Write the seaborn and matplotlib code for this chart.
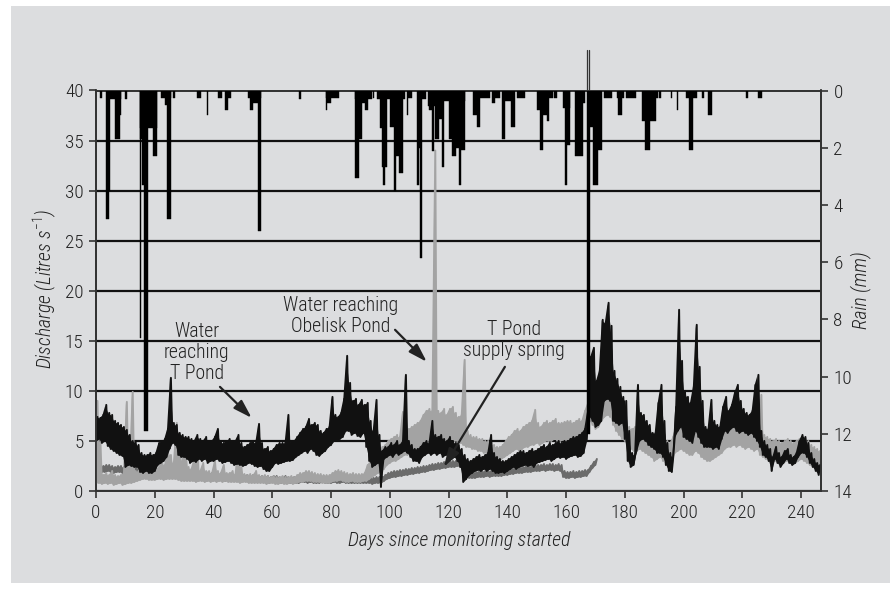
import numpy as np
import matplotlib
matplotlib.use("Agg")
import matplotlib.pyplot as plt
from matplotlib import font_manager as fm
import seaborn as sns
from matplotlib.patches import Rectangle

# ---------------- data ----------------
# Water reaching T Pond (black) : daily low / high of the noisy record, L/s
tpond_lo = [5.0,5.2,4.8,5.0,4.5,4.2,4.0,3.8,3.6,3.5,
            2.4,2.6,2.5,2.4,2.4,1.9,1.8,2.0,1.8,1.8,
            2.0,2.6,2.8,3.0,3.4,4.2,4.8,4.6,3.6,3.4,
            3.4,3.2,2.8,3.0,2.9,3.2,3.0,3.2,2.8,3.0,
            3.0,3.2,3.0,2.8,2.9,3.0,2.8,2.6,2.7,2.6,
            2.5,2.6,2.8,2.7,2.5,2.4,2.5,2.2,2.0,2.0,
            2.4,2.8,2.7,2.8,2.9,3.0,3.0,3.1,3.4,3.6,
            3.8,4.0,3.8,4.2,4.0,3.6,3.5,3.8,4.0,4.4,
            4.6,5.0,5.0,5.2,5.4,6.0,6.0,5.6,5.8,5.5,
            5.4,5.8,4.4,3.0,2.4,2.6,2.8,0.4,3.2,3.4,
            3.6,3.4,3.8,3.6,3.8,4.0,3.8,3.4,3.0,3.0,
            2.8,3.4,3.6,3.8,3.6,3.8,3.6,3.8,3.4,3.6,
            3.4,3.2,3.4,3.0,2.4,0.9,1.2,1.6,1.8,2.0,
            2.1,2.0,2.2,2.0,2.2,2.0,1.8,1.8,1.9,1.8,
            2.0,2.2,2.4,2.2,2.4,2.5,2.6,2.5,2.6,2.4,
            2.8,2.9,3.0,3.1,3.2,3.0,3.2,3.4,3.3,3.4,
            3.2,3.4,3.5,3.6,3.4,3.5,3.8,5.0,7.4,7.0,
            6.4,6.6,7.0,9.0,9.2,9.0,7.0,6.8,6.6,6.8,
            5.2,3.0,2.4,2.6,4.0,5.0,5.2,5.0,4.6,4.4,
            4.2,3.8,3.8,3.4,2.6,2.0,1.9,5.4,6.0,6.4,
            5.4,5.2,5.0,4.8,6.0,5.4,4.8,4.4,4.4,4.4,
            4.2,4.4,4.2,5.2,6.0,5.8,6.2,6.4,6.0,5.8,
            6.0,5.8,5.6,5.8,5.4,5.0,4.4,3.6,3.4,3.0,
            2.0,3.2,2.8,2.4,2.8,3.2,2.8,2.6,2.8,3.4,
            3.8,3.8,3.4,2.8,2.4,2.0,1.6]
tpond_hi = [7.4,7.3,7.6,8.6,7.8,7.6,7.0,6.8,6.6,6.4,
            6.1,5.6,5.0,4.9,4.6,3.8,3.6,3.6,3.8,3.6,
            3.8,4.8,5.0,5.2,6.2,11.3,6.8,6.6,5.8,5.6,
            5.4,5.4,5.2,5.0,5.6,5.2,5.0,5.4,5.0,5.0,
            5.4,6.2,5.0,4.8,5.0,5.2,5.0,5.0,5.6,4.8,
            4.4,4.6,4.8,5.0,4.8,6.7,4.8,4.2,4.4,4.0,
            4.2,4.6,4.8,4.8,4.8,7.6,4.9,5.0,5.4,5.8,
            6.2,6.4,7.2,6.6,6.8,6.6,6.0,5.8,6.2,6.4,
            9.4,7.6,7.4,7.8,9.2,13.5,10.8,9.0,9.2,8.6,
            9.1,8.6,8.8,7.0,6.0,9.1,5.6,4.0,4.4,4.4,
            4.8,4.6,5.0,4.6,5.0,11.6,5.0,4.6,4.2,4.2,
            4.4,4.8,5.0,4.8,7.0,5.6,5.4,5.6,5.2,5.0,
            5.4,5.0,4.8,4.6,4.2,3.6,3.2,3.0,3.2,3.4,
            3.6,3.4,3.6,3.8,5.6,3.8,3.4,3.2,3.0,3.0,
            3.2,3.4,3.6,3.8,4.0,4.0,3.8,4.0,4.2,4.0,
            4.2,4.4,4.6,4.4,4.8,4.6,4.8,5.0,4.8,5.0,
            5.0,5.2,5.4,5.4,5.6,5.8,6.2,8.0,13.4,14.3,
            11.0,12.0,17.1,16.8,18.8,16.5,12.0,11.2,10.4,9.4,
            9.0,6.0,3.8,3.6,10.6,7.8,7.6,7.0,6.6,5.8,
            5.8,8.8,10.6,7.0,4.8,3.8,3.4,8.4,18.1,13.0,
            10.0,9.4,8.8,10.4,16.6,12.4,9.0,6.4,6.2,9.1,
            7.0,6.6,6.4,8.4,9.4,8.0,8.6,9.8,10.6,9.0,
            8.2,7.8,7.6,8.0,10.6,11.6,6.0,5.0,4.6,4.2,
            3.4,4.4,3.8,3.4,4.0,4.2,3.6,3.4,3.8,5.0,
            5.6,5.4,4.8,3.8,3.2,2.8,2.6]

# Water reaching Obelisk Pond (light grey)
obelisk_lo = [0.8,0.8,0.7,0.8,0.7,0.8,0.6,0.7,0.8,0.6,
              0.7,0.8,0.8,0.9,1.0,1.1,1.2,1.2,1.1,1.1,
              1.1,1.2,1.2,1.1,1.2,1.2,1.2,1.2,1.1,1.0,
              1.0,1.0,1.0,1.0,0.9,1.0,1.0,0.9,1.0,0.9,
              1.0,0.9,1.0,0.9,1.0,0.9,0.9,0.9,0.9,0.8,
              0.9,0.9,0.8,0.8,0.8,0.8,0.8,0.8,0.7,0.8,
              0.8,0.7,0.7,0.8,0.7,0.7,0.8,0.7,0.8,0.9,
              0.9,1.0,1.0,1.0,0.9,0.9,0.9,0.8,0.8,0.8,
              0.9,1.0,1.0,1.1,1.0,0.9,0.9,1.0,0.9,0.9,
              0.9,1.0,1.0,1.2,1.4,1.6,1.8,2.0,2.2,2.6,
              2.8,3.0,3.0,3.2,3.4,3.6,3.6,3.8,4.0,4.2,
              4.4,4.6,4.8,5.0,5.4,5.6,5.2,5.0,5.2,5.0,
              5.4,5.2,5.0,5.0,4.8,4.6,4.4,4.4,4.2,4.2,
              4.0,4.0,3.8,3.8,3.6,3.4,3.2,3.1,3.2,3.4,
              3.6,3.8,4.0,4.2,4.0,4.2,4.4,4.4,4.6,4.6,
              4.8,4.6,4.8,5.0,5.0,5.0,5.2,5.0,5.0,5.1,
              5.0,5.2,5.0,5.2,5.4,5.4,6.0,6.8,7.0,6.6,
              6.2,6.4,7.0,7.4,7.6,7.4,6.6,6.0,5.6,5.2,
              5.0,4.6,4.2,4.0,4.0,4.2,4.0,3.8,3.6,3.4,
              3.0,3.2,3.4,3.0,2.6,2.4,3.0,3.8,4.0,4.2,
              4.0,3.8,3.6,3.6,4.0,3.8,3.4,3.2,3.0,3.0,
              3.2,3.4,3.6,3.8,4.2,4.4,4.4,4.6,4.4,4.6,
              4.4,4.2,4.4,4.2,4.0,4.2,3.6,3.4,3.2,3.0,
              2.8,3.0,2.8,2.6,2.8,3.0,2.8,2.6,2.8,3.0,
              3.2,3.0,2.8,2.6,2.4,2.2,2.0]
obelisk_hi = [9.0,5.0,1.6,1.8,1.6,2.0,1.6,1.5,1.6,1.8,
              8.9,2.0,9.9,2.0,2.0,2.2,2.4,2.2,2.2,2.0,
              2.2,2.4,3.0,2.6,4.2,3.6,2.8,6.8,5.0,3.0,
              5.4,2.4,2.2,3.2,5.0,2.0,2.8,2.0,2.0,1.8,
              3.0,2.0,1.8,2.6,1.8,1.8,2.0,1.7,4.6,2.4,
              1.7,1.6,1.7,1.6,2.0,1.6,1.5,1.6,1.5,1.4,
              1.5,1.4,1.4,1.5,1.4,1.4,1.5,1.4,1.6,1.8,
              1.8,2.0,2.0,1.9,1.8,1.7,1.7,1.6,1.6,1.6,
              1.8,2.0,2.1,2.0,1.9,1.8,1.7,1.8,1.7,1.7,
              1.7,1.8,2.6,3.0,3.4,4.0,4.2,4.4,4.6,5.0,
              5.2,5.4,5.6,5.4,7.9,6.0,6.2,6.4,6.6,6.8,
              7.0,7.6,8.0,8.2,8.0,34.0,8.0,7.8,8.2,7.6,
              8.2,8.4,7.8,7.4,7.6,13.1,6.0,5.6,5.4,5.4,
              5.2,5.2,5.0,5.0,4.8,4.6,4.4,4.4,4.6,5.0,
              5.4,5.6,6.0,6.2,6.0,6.4,6.6,6.8,7.0,8.1,
              6.8,6.4,6.8,7.0,6.8,7.0,7.2,6.8,6.8,6.9,
              7.0,7.0,6.8,7.0,7.2,7.0,8.0,8.8,9.0,9.0,
              9.0,8.8,9.6,10.2,10.1,9.8,9.0,8.4,8.0,7.8,
              7.4,6.4,6.2,6.4,6.6,6.4,6.2,6.0,5.8,5.6,
              5.6,5.8,6.0,5.6,5.0,4.8,5.4,6.4,7.2,7.4,
              7.0,6.8,6.6,6.8,7.2,6.8,6.0,5.6,5.4,5.6,
              5.8,6.0,6.2,6.4,6.6,6.8,7.0,7.0,6.8,7.0,
              6.8,6.6,6.6,6.4,6.4,6.6,9.6,5.6,5.4,5.2,
              5.0,5.2,5.0,4.8,5.0,5.2,5.0,4.8,5.0,5.2,
              5.4,5.2,5.0,4.6,4.4,4.2,4.0]

# T Pond supply spring (dark grey), days 0-170
spring_lo = [1.9,2.0,1.9,1.9,2.0,1.9,1.8,1.9,1.9,1.8,
             1.8,1.8,1.7,1.8,1.7,
             1.6,1.7,1.6,1.6,1.5,1.6,
             1.5,1.5,1.5,1.4,1.5,1.4,1.4,1.4,1.3,1.4,
             1.3,1.3,1.3,1.2,1.3,1.2,1.2,1.2,1.2,1.1,
             1.1,1.1,1.1,1.0,1.1,1.0,1.0,1.0,1.0,1.0,
             1.0,0.9,1.0,0.9,0.9,0.9,0.9,0.9,0.8,0.9,
             0.9,0.8,0.8,0.9,0.8,0.8,0.8,0.8,0.8,0.9,
             0.9,0.8,0.9,0.8,0.8,0.8,0.9,0.8,0.8,0.8,
             0.9,0.8,0.8,0.9,0.8,0.8,0.8,0.8,0.8,0.8,0.8,
             0.8,0.8,0.7,0.8,0.8,0.8,
             1.0,1.2,1.3,1.4,1.4,1.5,1.5,
             1.6,1.6,1.7,1.7,1.8,1.8,1.9,1.9,
             2.0,2.1,2.1,2.2,2.2,2.3,2.3,2.4,2.4,2.4,2.5,2.4,
             1.8,1.4,1.3,1.3,1.3,1.4,
             1.4,1.4,1.5,1.4,1.5,1.5,1.5,1.5,1.6,1.6,
             1.7,1.7,1.8,1.8,1.8,1.9,1.9,1.9,2.0,2.0,
             2.0,2.1,2.0,2.1,2.1,2.0,2.1,2.0,
             1.4,1.3,1.3,1.4,1.3,1.4,1.4,1.5,1.5,
             1.9,2.3,2.6]
spring_hi = [2.5,2.6,2.5,2.6,2.6,2.5,2.4,2.5,2.5,2.4,
             2.4,2.4,2.3,2.4,2.3,
             2.2,2.3,2.2,2.2,2.1,2.2,
             2.1,2.1,2.1,2.0,2.1,2.0,2.0,2.0,1.9,2.0,
             1.9,1.9,1.9,1.8,1.9,1.8,1.8,1.8,1.8,1.7,
             1.7,1.7,1.7,1.6,1.7,1.6,1.6,1.6,1.6,1.6,
             1.6,1.5,1.6,1.5,1.5,1.5,1.5,1.5,1.4,1.5,
             1.5,1.4,1.4,1.5,1.4,1.4,1.4,1.4,1.4,1.5,
             1.5,1.4,1.5,1.4,1.4,1.4,1.5,1.4,1.4,1.4,
             1.5,1.4,1.4,1.5,1.4,1.4,1.4,1.4,1.4,1.4,1.4,
             1.4,1.4,1.3,1.4,1.4,1.4,
             1.6,1.8,1.9,2.0,2.0,2.1,2.1,
             2.2,2.2,2.3,2.3,2.4,2.4,2.5,2.5,
             2.6,2.7,2.7,2.8,2.8,2.9,2.9,3.0,3.0,3.0,3.1,3.0,
             2.4,2.0,1.9,1.9,1.9,2.0,
             2.0,2.0,2.1,2.0,2.1,2.1,2.1,2.1,2.2,2.2,
             2.3,2.3,2.4,2.4,2.4,2.5,2.5,2.5,2.6,2.6,
             2.6,2.7,2.6,2.7,2.7,2.6,2.7,2.6,
             2.0,1.9,1.9,2.0,1.9,2.0,2.0,2.1,2.1,
             2.5,2.9,3.2]

# Rain events: start day, end day, depth (mm)
rain_start = [1.3,3.6,3.5,4.3,6.4,8.0,10.0,14.9,14.9,15.0,15.8,16.4,19.5,22.0,23.5,24.3,26.3,
              34.5,37.7,41.7,43.8,45.0,51.6,52.4,53.3,55.1,69.2,78.2,78.2,78.7,
              88.2,88.2,89.6,90.6,91.6,94.4,95.6,96.7,97.3,97.8,100.1,101.5,101.8,103.0,
              105.7,106.2,109.2,109.9,110.3,110.9,113.1,113.4,114.3,115.4,
              116.6,116.6,117.7,120.0,121.1,122.6,123.7,124.4,128.4,129.8,130.7,
              134.8,135.7,138.1,139.2,141.2,143.2,150.2,151.1,152.0,153.4,154.3,156.0,
              159.1,159.8,160.2,163.0,165.9,167.2,168.1,169.3,170.9,173.0,177.3,177.8,
              180.3,185.8,187.0,190.8,191.8,195.8,197.8,200.7,202.0,206.4,208.5,221.4,225.5]
rain_end = [1.9,8.4,4.3,4.9,8.0,8.5,10.5,20.9,15.3,16.4,16.6,17.8,20.9,25.6,24.3,25.6,27.0,
            35.6,38.1,42.9,45.0,46.0,56.3,53.3,55.1,56.3,69.7,82.7,78.7,80.0,
            93.8,89.6,90.6,91.6,92.6,94.8,105.2,98.4,99.0,98.3,101.8,102.0,104.0,104.4,
            106.2,107.5,109.9,110.3,110.9,112.3,116.6,114.3,115.1,116.6,
            125.6,117.7,118.5,121.1,122.6,123.7,124.4,125.6,129.8,130.7,134.1,
            135.7,137.5,139.2,141.2,142.6,146.0,151.1,152.0,153.4,154.3,155.5,156.8,
            161.4,160.2,161.4,165.9,166.6,168.1,169.3,170.9,172.1,175.5,179.6,179.0,
            183.8,190.8,188.6,191.3,192.2,196.2,198.2,204.5,203.3,207.1,209.6,221.8,226.6]
rain_mm = [0.27,0.3,4.5,3.5,1.7,0.87,0.29,1.3,8.65,1.7,3.3,11.9,2.3,0.27,0.5,4.5,0.27,
           0.27,0.85,0.27,0.68,0.27,0.27,0.68,0.45,4.9,0.3,0.27,0.68,0.45,
           0.3,3.07,1.7,0.45,0.68,0.27,0.3,1.3,2.66,3.3,1.26,3.5,2.3,2.9,
           0.85,0.27,3.3,2.0,5.87,0.3,0.55,0.68,2.1,1.7,
           0.35,1.0,2.66,1.7,2.3,2.0,3.3,2.07,0.85,1.26,0.27,
           0.45,0.27,1.7,0.35,1.26,0.27,0.68,2.07,0.85,1.08,0.27,0.27,
           0.6,3.3,1.9,2.3,0.44,12.0,1.26,3.3,2.07,0.27,0.27,0.85,
           0.27,1.08,2.07,0.27,0.27,0.27,0.68,0.27,2.07,0.27,0.85,0.27,0.27]

discharge_ticks = [0, 5, 10, 15, 20, 25, 30, 35, 40]
rain_ticks = [0, 2, 4, 6, 8, 10, 12, 14]
day_ticks = [0, 20, 40, 60, 80, 100, 120, 140, 160, 180, 200, 220, 240]

assert len(tpond_lo) == len(tpond_hi) == 247
assert len(obelisk_lo) == len(obelisk_hi) == 247
assert len(spring_lo) == len(spring_hi) == 171
assert len(rain_start) == len(rain_end) == len(rain_mm)

# ---------------- style ----------------
BG = "#dcdddf"
INK = "#222222"
sns.set_theme(style="ticks")

installed = {f.name for f in fm.fontManager.ttflist}
family, scale = "Liberation Sans", 0.80
for cand in ["Liberation Sans Narrow", "Roboto Condensed", "Open Sans Condensed",
             "DejaVu Sans Condensed", "Noto Sans Condensed"]:
    if cand in installed:
        family, scale = cand, 1.0
        break
plt.rcParams["font.family"] = [family, "Liberation Sans", "DejaVu Sans"]
plt.rcParams["font.weight"] = "light"
plt.rcParams["mathtext.fontset"] = "custom"
plt.rcParams["mathtext.rm"] = family + ":light"
plt.rcParams["mathtext.it"] = family + ":italic:light"

FS = 14.2 * scale         # annotation / axis-title size
TS = 13.8 * scale         # tick label size
LS = 21.5 / (0.96 * FS * 100 / 72)   # ~21 px between text lines

W, H = 895, 590
fig = plt.figure(figsize=(W / 100, H / 100), dpi=100, facecolor="white")
fig.patches.append(Rectangle((11 / W, 7 / H), 879 / W, 577 / H, transform=fig.transFigure,
                             facecolor=BG, edgecolor="none", zorder=-10))
ax = fig.add_axes([96 / W, 1 - 491 / H, 725 / W, 400.5 / H])
ax.set_facecolor(BG)


def band(lo, hi, color, lw, z):
    d = np.arange(len(lo), dtype=float)
    ax.fill_between(d, lo, hi, color=color, linewidth=0, zorder=z)
    x = np.column_stack([d, d + 0.5]).ravel()
    y = np.column_stack([lo, hi]).ravel()
    sns.lineplot(x=x, y=y, ax=ax, color=color, linewidth=lw, estimator=None,
                 sort=False, zorder=z)


band(spring_lo, spring_hi, "#6b6b6b", 1.4, 3)
band(obelisk_lo, obelisk_hi, "#a3a3a3", 1.4, 4)
band(tpond_lo, tpond_hi, "#111111", 1.4, 5)

ax.set_xlim(0, 246.8)
ax.set_ylim(0, 40)
ax.set_xticks(day_ticks)
ax.set_yticks(discharge_ticks)
ax.yaxis.grid(True, color="#111111", linewidth=1.6)
ax.xaxis.grid(False)
ax.set_axisbelow(True)
ax.set_xlabel("")
ax.set_ylabel("")
for s in ax.spines.values():
    s.set_visible(True)
    s.set_color("#333333")
    s.set_linewidth(1.3)
ax.tick_params(axis="both", direction="out", length=5, width=1.2, color="#333333",
               labelcolor=INK, labelsize=TS, pad=4)

# rain on an inverted right axis
ax2 = ax.twinx()
ax2.bar(rain_start, rain_mm, width=np.subtract(rain_end, rain_start), align="edge",
        color="#000000", linewidth=0.3, edgecolor="#000000", zorder=6)
imax = int(np.argmax(rain_mm))
for xx in (rain_start[imax], rain_end[imax] - 0.2):
    ax2.plot([xx, xx], [0, -1.4], color="#333333", linewidth=0.9, clip_on=False)
ax2.set_ylim(14, 0)
ax2.set_yticks(rain_ticks)
ax2.tick_params(axis="y", direction="out", length=5, width=1.2, color="#333333",
                labelcolor=INK, labelsize=TS, pad=4)
for s in ax2.spines.values():
    s.set_color("#333333")
    s.set_linewidth(1.3)

# annotations
ax.text(34.3, 13.8, "Water\nreaching\nT Pond", ha="center", va="center", fontsize=FS,
        color=INK, linespacing=LS, zorder=8)
ax.text(83.2, 17.5, "Water reaching\nObelisk Pond", ha="center", va="center", fontsize=FS,
        color=INK, linespacing=LS, zorder=8)
ax.text(142.3, 15.1, "T Pond\nsupply spring", ha="center", va="center", fontsize=FS,
        color=INK, linespacing=LS, zorder=8)
arrow = dict(arrowstyle="-|>,head_length=0.8,head_width=0.25", color=INK, lw=1.6,
             mutation_scale=14, shrinkA=0, shrinkB=0)
ax.annotate("", xy=(53.0, 7.3), xytext=(42.2, 10.4), arrowprops=arrow, zorder=8)
ax.annotate("", xy=(112.6, 12.9), xytext=(101.8, 16.1), arrowprops=arrow, zorder=8)
ax.annotate("", xy=(118.4, 2.4), xytext=(139.2, 12.4), arrowprops=arrow, zorder=8)

# axis titles
fig.text(45 / W, 1 - 289 / H, "Discharge (Litres s$^{-1}$)", rotation=90, ha="center",
         va="center", fontsize=FS, style="italic", color=INK)
fig.text(861 / W, 1 - 290 / H, "Rain (mm)", rotation=90, ha="center", va="center",
         fontsize=FS, style="italic", color=INK)
fig.text(459 / W, 1 - 540 / H, "Days since monitoring started", ha="center", va="center",
         fontsize=FS, style="italic", color=INK)

fig.savefig("out.png", dpi=100, facecolor="white")
